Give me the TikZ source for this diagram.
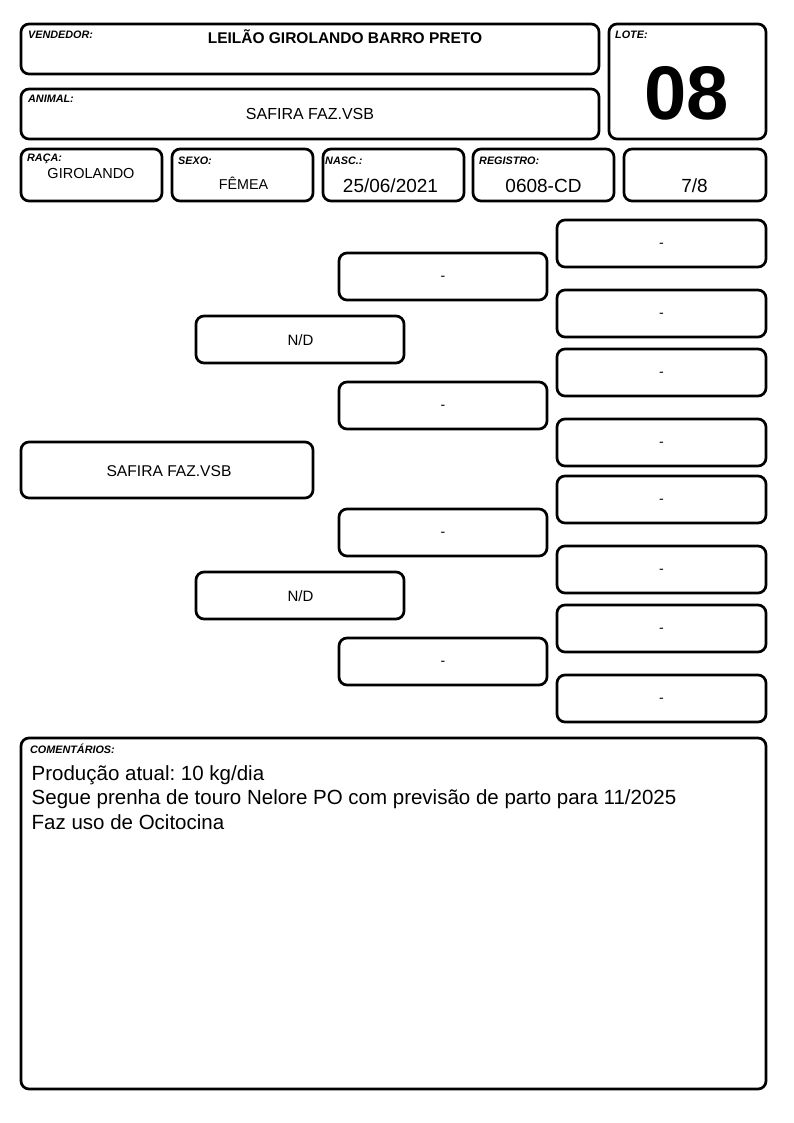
\documentclass[tikz,border=0pt]{standalone}
\usepackage{fontspec}
\setmainfont{Liberation Sans}
\frenchspacing
\newcommand\fsz[1]{\fontsize{#1}{#1}\selectfont}
\tikzset{
  box/.style={draw, line width=2.7pt, rounded corners=8pt, inner sep=0pt, fill=white},
  lbl/.style={anchor=base west, inner sep=0pt, font=\fsz{10.8}\bfseries\itshape},
  val/.style={anchor=base, inner sep=0pt},
  hyph/.style={anchor=base, inner sep=0pt, font=\fsz{14}, yshift=-3.9pt},
  cmt/.style={anchor=base west, inner sep=0pt, font=\fsz{20.5}}
}
\newcommand\bx[5]{\node[box, minimum width={(#4-#2)*1pt}, minimum height={(#5-#3)*1pt}] (#1) at ({(#2+#4)/2},{(#3+#5)/2}) {};}
\newcommand\dbx[5]{\bx{#1}{#2}{#3}{#4}{#5}\node[hyph] (t#1) at (#1.center) {-};}
\begin{document}
\begin{tikzpicture}[x=1pt,y=-1pt]
\useasboundingbox (0,0) rectangle (794,1123);
% header boxes
\bx{vend}{21}{24}{599}{74}
\bx{animal}{21}{89}{599}{139}
\bx{lote}{609}{24}{766}{139}
\bx{raca}{21}{149}{162}{201}
\bx{sexo}{172}{149}{313}{201}
\bx{nasc}{323}{149}{464}{201}
\bx{reg}{473}{149}{614}{201}
\bx{grau}{624}{149}{766}{201}
% labels
\node[lbl] (lvend) at (28,39) {VENDEDOR:};
\node[lbl] (lanimal) at (28,102.5) {ANIMAL:};
\node[lbl] (llote) at (615,39) {LOTE:};
\node[lbl] (lraca) at (27,162) {RAÇA:};
\node[lbl] (lsexo) at (178,164.5) {SEXO:};
\node[lbl] (lnasc) at (325,164.5) {NASC.:};
\node[lbl] (lreg) at (479,164.5) {REGISTRO:};
% values
\node[val, font=\fsz{15.5}\bfseries] (tvend) at (345,43.3) {LEILÃO GIROLANDO BARRO PRETO};
\node[val, font=\fsz{16}] (tanimal) at (310,119.3) {SAFIRA FAZ.VSB};
\node[val, font=\fsz{76}\bfseries] (tlote) at (687,120) {08};
\node[val, font=\fsz{14.5}] (traca) at (91,178.3) {GIROLANDO};
\node[val, font=\fsz{14.3}] (tsexo) at (243.5,189.3) {FÊMEA};
\node[val, font=\fsz{19}] (tnasc) at (390.5,193) {25/06/2021};
\node[val, font=\fsz{19}] (treg) at (543.5,193) {0608-CD};
\node[val, font=\fsz{19}] (tgrau) at (694.5,193) {7/8};
% pedigree
\bx{subj}{21}{442}{313}{498}
\node[val, font=\fsz{15.6}] (tsubj) at (169,476.7) {SAFIRA FAZ.VSB};
\bx{p}{196}{316}{404}{363}
\node[val, font=\fsz{15}] (tp) at (300.5,345.5) {N/D};
\bx{m}{196}{572}{404}{619}
\node[val, font=\fsz{15}] (tm) at (300.5,601) {N/D};
\dbx{pp}{339}{253}{547}{300}
\dbx{pm}{339}{382}{547}{429}
\dbx{mp}{339}{509}{547}{556}
\dbx{mm}{339}{638}{547}{685}
\dbx{ppp}{557}{220}{766}{267}
\dbx{ppm}{557}{290}{766}{337}
\dbx{pmp}{557}{349}{766}{396}
\dbx{pmm}{557}{419}{766}{466}
\dbx{mpp}{557}{476}{766}{523}
\dbx{mpm}{557}{546}{766}{593}
\dbx{mmp}{557}{605}{766}{652}
\dbx{mmm}{557}{675}{766}{722}
% comments
\bx{com}{21}{738}{766}{1089}
\node[lbl] (lcom) at (30,753) {COMENTÁRIOS:};
\node[cmt] (c1) at (31.5,780.7) {Produção atual: 10 kg/dia};
\node[cmt] (c2) at (31.5,804.9) {Segue prenha de touro Nelore PO com previsão de parto para 11/2025};
\node[cmt] (c3) at (31.5,829.1) {Faz uso de Ocitocina};
\end{tikzpicture}
\end{document}
